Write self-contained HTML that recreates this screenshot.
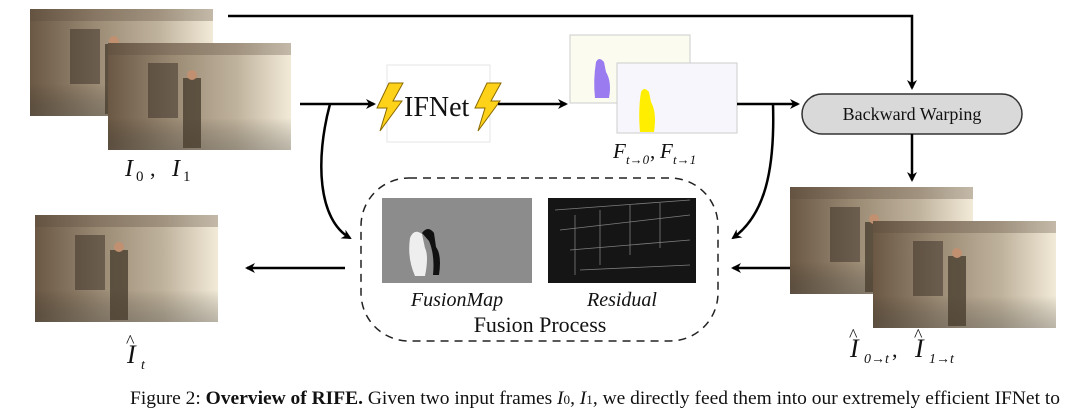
<!DOCTYPE html>
<html><head><meta charset="utf-8"><style>
body{margin:0;background:#fff;width:1080px;height:410px;overflow:hidden}
svg{display:block}
text{font-family:"Liberation Serif",serif;fill:#111}
</style></head><body>
<svg width="1080" height="410" viewBox="0 0 1080 410" xmlns="http://www.w3.org/2000/svg">
<defs>
<linearGradient id="st" x1="0" x2="1" y1="0" y2="0">
<stop offset="0" stop-color="#6a5844"/><stop offset="0.35" stop-color="#9a8a74"/><stop offset="0.7" stop-color="#bfb29c"/><stop offset="1" stop-color="#f2ead8"/></linearGradient>
<linearGradient id="stv" x1="0" x2="0" y1="0" y2="1">
<stop offset="0" stop-color="#000" stop-opacity="0"/><stop offset="0.7" stop-color="#000" stop-opacity="0"/><stop offset="1" stop-color="#3a3a3a" stop-opacity="0.3"/></linearGradient>
<marker id="ah" markerWidth="10" markerHeight="10" refX="8" refY="5" orient="auto" markerUnits="userSpaceOnUse"><path d="M0,0 L10,5 L0,10 L3,5 z" fill="#000"/></marker>
<g id="photo">
<rect width="183" height="107" fill="url(#st)"/>
<rect width="183" height="107" fill="url(#stv)"/>
<rect x="40" y="20" width="30" height="55" fill="#2e241c" opacity="0.45"/>
<rect x="75" y="35" width="18" height="70" fill="#4a3e30" opacity="0.8"/>
<circle cx="84" cy="32" r="5" fill="#c09070"/>
<rect x="0" y="0" width="183" height="12" fill="#5a4a3a" opacity="0.3"/>
</g>
<g id="bolt"><path d="M13,0 L27,0 L17,18 L26,18 L4,48 L11,25 L1,25 z" fill="#ffd21a" stroke="#8a6a00" stroke-width="1"/></g>
</defs>

<use href="#photo" x="30" y="9"/>
<use href="#photo" x="108" y="43"/>
<text x="125" y="176" font-size="24" font-style="italic">I</text><text x="136" y="181" font-size="15">0</text>
<text x="150" y="176" font-size="22">,</text>
<text x="172" y="176" font-size="24" font-style="italic">I</text><text x="183" y="181" font-size="15">1</text>

<polyline points="228,16 912,16 912,88" fill="none" stroke="#000" stroke-width="2.5" marker-end="url(#ah)"/>

<line x1="300" y1="104" x2="374" y2="104" stroke="#000" stroke-width="2.5" marker-end="url(#ah)"/>
<rect x="387" y="65" width="103" height="77" fill="#fff" stroke="#e4e4e4"/>
<use href="#bolt" x="376" y="83"/>
<use href="#bolt" x="474" y="83"/>
<text x="404" y="116" font-size="28">IFNet</text>
<line x1="498" y1="104" x2="566" y2="104" stroke="#000" stroke-width="2.5" marker-end="url(#ah)"/>

<rect x="570" y="35" width="120" height="68" fill="#fbfcef" stroke="#ccc"/>
<path d="M596,62 q3,-6 8,0 l2,10 q6,10 3,26 l-14,0 q-2,-18 1,-36z" fill="#9a7cf0"/>
<rect x="617" y="63" width="120" height="70" fill="#f7f6fd" stroke="#ccc"/>
<path d="M641,92 q3,-6 8,0 l2,10 q6,10 3,30 l-14,0 q-2,-22 1,-40z" fill="#ffee00"/>
<text x="613" y="158" font-size="21" font-style="italic">F</text><text x="626" y="164" font-size="13" font-style="italic">t→0</text>
<text x="650" y="158" font-size="21">,</text>
<text x="660" y="158" font-size="21" font-style="italic">F</text><text x="673" y="164" font-size="13" font-style="italic">t→1</text>

<line x1="737" y1="104" x2="798" y2="104" stroke="#000" stroke-width="2.5" marker-end="url(#ah)"/>
<rect x="802" y="94" width="220" height="40" rx="20" fill="#d9d9d9" stroke="#333" stroke-width="1.5"/>
<text x="912" y="120" font-size="18" text-anchor="middle">Backward Warping</text>
<line x1="912" y1="134" x2="912" y2="180" stroke="#000" stroke-width="2.5" marker-end="url(#ah)"/>

<use href="#photo" x="790" y="187"/>
<use href="#photo" x="873" y="221"/>
<text x="850" y="357" font-size="26" font-style="italic">I</text><text x="849" y="341" font-size="18">^</text><text x="864" y="363" font-size="14" font-style="italic">0→t</text>
<text x="892" y="357" font-size="22">,</text>
<text x="915" y="357" font-size="26" font-style="italic">I</text><text x="914" y="341" font-size="18">^</text><text x="929" y="363" font-size="14" font-style="italic">1→t</text>

<path d="M773,104 C775,170 765,215 733,238" fill="none" stroke="#000" stroke-width="2.5" marker-end="url(#ah)"/>
<path d="M330,104 C315,160 318,220 350,238" fill="none" stroke="#000" stroke-width="2.5" marker-end="url(#ah)"/>
<line x1="790" y1="268" x2="733" y2="268" stroke="#000" stroke-width="2.5" marker-end="url(#ah)"/>

<rect x="361" y="178" width="357" height="163" rx="48" fill="none" stroke="#222" stroke-width="1.5" stroke-dasharray="8,6"/>
<rect x="382" y="198" width="150" height="85" fill="#8c8c8c"/>
<path d="M410,238 q4,-10 12,-4 l3,14 q4,8 0,28 l-10,0 q-8,-18 -5,-38z" fill="#eee"/>
<path d="M422,233 q6,-8 12,0 l2,14 q6,8 3,28 l-6,0 q2,-20 -4,-34z" fill="#111"/>
<rect x="548" y="198" width="148" height="85" fill="#151515"/>
<g stroke="#aaa" stroke-width="0.8" opacity="0.7">
<path d="M555,210 L690,200 M560,230 L690,215 M570,250 L690,240 M580,270 L690,265 M575,215 l0,60 M600,210 l0,55 M630,205 l0,50 M660,203 l0,45"/>
</g>
<text x="457" y="306" font-size="20" font-style="italic" text-anchor="middle">FusionMap</text>
<text x="622" y="306" font-size="20" font-style="italic" text-anchor="middle">Residual</text>
<text x="540" y="332" font-size="22" text-anchor="middle">Fusion Process</text>

<line x1="345" y1="268" x2="247" y2="268" stroke="#000" stroke-width="2.5" marker-end="url(#ah)"/>

<use href="#photo" x="35" y="215"/>
<text x="127" y="363" font-size="26" font-style="italic">I</text><text x="126" y="347" font-size="18">^</text><text x="141" y="369" font-size="14" font-style="italic">t</text>

<text x="130" y="404" font-size="19.3" textLength="930" lengthAdjust="spacingAndGlyphs">Figure 2: <tspan font-weight="bold">Overview of RIFE.</tspan> Given two input frames <tspan font-style="italic">I</tspan><tspan font-size="13">0</tspan>, <tspan font-style="italic">I</tspan><tspan font-size="13">1</tspan>, we directly feed them into our extremely efficient IFNet to</text>
</svg>
</body></html>
